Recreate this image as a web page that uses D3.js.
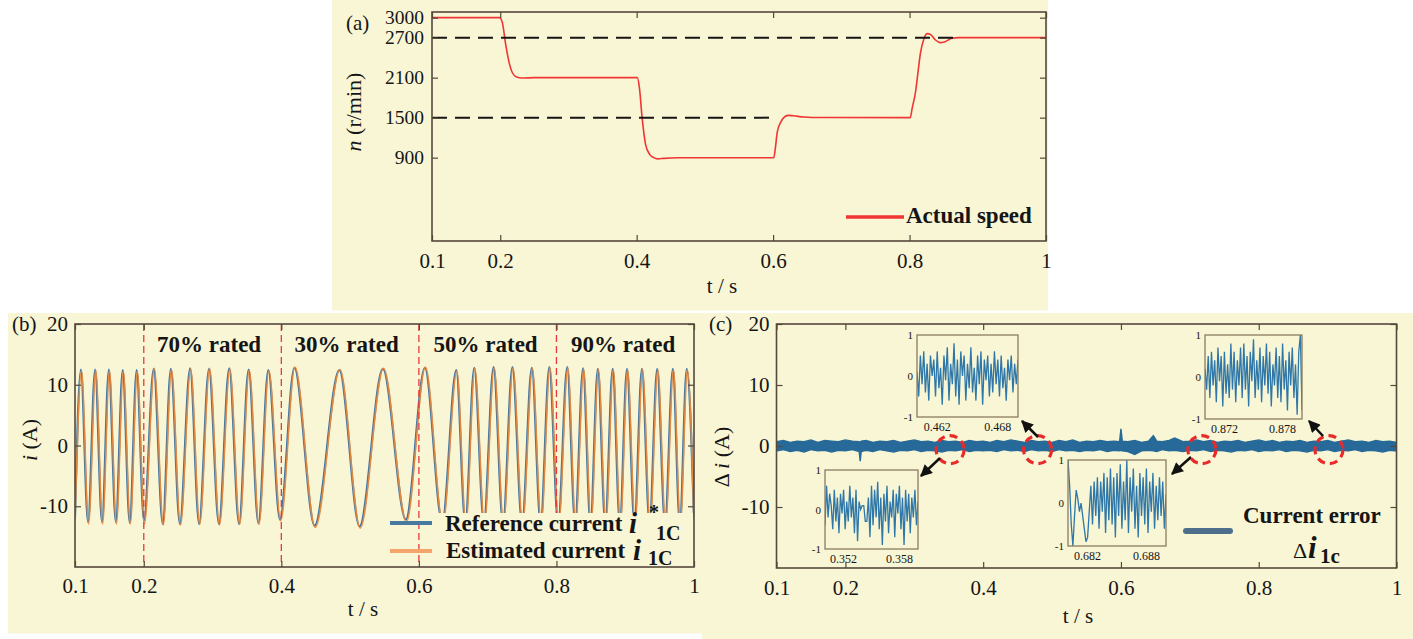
<!DOCTYPE html>
<html>
<head>
<meta charset="utf-8">
<script src="https://cdn.jsdelivr.net/npm/d3@7"></script>
<style>
  body { margin: 0; background: #ffffff; }
  svg text { font-family: "Liberation Serif", "Times New Roman", serif; fill: #151515; }
</style>
</head>
<body>
<div id="chart"></div>
<script>

// ---------- data ----------

const timeTicks = [0.1, 0.2, 0.4, 0.6, 0.8, 1];
const speedTicks = [900, 1500, 2100, 2700, 3000];
const currentTicks = [-10, 0, 10, 20];

// (a) actual speed, [t (s), n (r/min)]
const speedData = [
  [0.100, 3000], [0.199, 3000], [0.203, 2930], [0.208, 2600], [0.213, 2330], [0.218, 2170],
  [0.224, 2110], [0.232, 2095], [0.250, 2100], [0.401, 2100], [0.404, 1950], [0.408, 1500],
  [0.413, 1100], [0.419, 950], [0.425, 900], [0.431, 882], [0.440, 890], [0.460, 898],
  [0.601, 900], [0.603, 1020], [0.606, 1280], [0.611, 1430], [0.616, 1505], [0.622, 1535],
  [0.630, 1528], [0.645, 1510], [0.670, 1502], [0.801, 1500], [0.804, 1650], [0.809, 1900],
  [0.812, 2150], [0.816, 2470], [0.821, 2680], [0.826, 2760], [0.831, 2745], [0.838, 2665],
  [0.845, 2625], [0.852, 2640], [0.862, 2690], [0.872, 2700], [1.000, 2700]
];
// dashed reference levels [n, end time]
const speedRefs = [[2700, 0.87], [1500, 0.602]];

// (b) load steps
const loadBounds = [0.2, 0.4, 0.6, 0.8];
const loadLabels = ["70% rated", "30% rated", "50% rated", "90% rated"];
const loadCenters = [0.295, 0.495, 0.697, 0.897];

// (b) reference current, peaks and troughs [t, A]
const refWave = [
  [0.100, -11.8], [0.1086, 12.5], [0.1190, -12.6], [0.1293, 12.5], [0.1393, -12.6], [0.1493, 12.5],
  [0.1594, -12.6], [0.1694, 12.4], [0.1796, -12.7], [0.1897, 12.4], [0.2003, -12.4],
  [0.2145, 12.6], [0.2276, -12.9], [0.2394, 12.6], [0.2525, -12.9], [0.2674, 12.7], [0.2805, -12.9],
  [0.2949, 12.6], [0.3093, -12.9], [0.3243, 12.7], [0.3386, -12.9], [0.3525, 12.5], [0.3667, -12.8],
  [0.3811, 12.4], [0.3980, -12.2],
  [0.4190, 12.8], [0.4484, -13.2], [0.4844, 12.4], [0.5138, -13.3], [0.5477, 12.6], [0.5811, -12.2],
  [0.6087, 12.8],
  [0.6340, -12.6], [0.6544, 12.4], [0.6675, -12.7], [0.6805, 12.8], [0.6945, -12.7], [0.7086, 12.9],
  [0.7223, -12.8], [0.7360, 12.9], [0.7500, -12.8], [0.7642, 12.8], [0.7770, -12.8], [0.7897, 12.9],
  [0.8025, -12.8],
  [0.8157, 12.9], [0.8272, -12.8], [0.8387, 12.7], [0.8495, -12.8], [0.8602, 12.6], [0.8710, -12.8],
  [0.8818, 12.6], [0.8922, -12.8], [0.9026, 12.6], [0.9135, -12.8], [0.9243, 12.6], [0.9354, -12.8],
  [0.9465, 12.6], [0.9579, -12.8], [0.9693, 12.6], [0.9794, -12.8], [0.9895, 12.6], [1.000, -11.9]
];
// (b) estimated current, peaks and troughs [t, A]
const estWave = [
  [0.100, -12.2], [0.1094, 12.3], [0.1198, -12.9], [0.1301, 12.4], [0.1401, -12.9], [0.1501, 12.3],
  [0.1602, -12.9], [0.1702, 12.3], [0.1804, -12.9], [0.1905, 12.2], [0.2010, -12.9],
  [0.2153, 12.7], [0.2284, -13.1], [0.2402, 12.5], [0.2533, -13.1], [0.2682, 12.6], [0.2813, -13.0],
  [0.2957, 12.7], [0.3101, -13.1], [0.3251, 12.6], [0.3394, -13.0], [0.3533, 12.4], [0.3675, -13.0],
  [0.3819, 12.3], [0.3990, -12.4],
  [0.4198, 12.9], [0.4492, -13.5], [0.4852, 12.5], [0.5146, -13.6], [0.5485, 12.7], [0.5819, -12.6],
  [0.6095, 12.9],
  [0.6348, -12.8], [0.6552, 12.2], [0.6683, -12.9], [0.6813, 12.7], [0.6953, -12.9], [0.7094, 12.8],
  [0.7231, -12.9], [0.7368, 12.8], [0.7508, -12.9], [0.7650, 12.7], [0.7778, -12.9], [0.7905, 12.8],
  [0.8033, -12.9],
  [0.8165, 12.8], [0.8280, -12.9], [0.8395, 12.6], [0.8503, -12.9], [0.8610, 12.5], [0.8718, -12.9],
  [0.8826, 12.5], [0.8930, -12.9], [0.9034, 12.5], [0.9143, -12.9], [0.9251, 12.5], [0.9362, -12.9],
  [0.9473, 12.5], [0.9587, -12.9], [0.9701, 12.5], [0.9802, -12.9], [0.9903, 12.5], [1.000, -12.3]
];

// (c) current error band, [t, lower, upper] in A
const errBand = [
  [0.10, -0.8, 0.7], [0.11, -0.6, 0.9], [0.12, -0.9, 0.6], [0.13, -0.7, 0.8], [0.14, -1.0, 0.7],
  [0.15, -0.6, 1.0], [0.16, -0.8, 0.6], [0.17, -0.7, 0.9], [0.18, -1.0, 0.8], [0.19, -0.7, 0.7],
  [0.20, -0.8, 1.0], [0.21, -0.6, 0.8], [0.22, -0.9, 0.7], [0.2215, -2.5, 0.6], [0.223, -0.9, 0.8],
  [0.23, -0.7, 0.9], [0.24, -0.9, 0.6], [0.25, -0.6, 0.8], [0.26, -0.8, 0.7], [0.27, -1.0, 0.9],
  [0.28, -0.7, 0.6], [0.29, -0.8, 0.8], [0.30, -0.6, 1.0], [0.31, -0.9, 0.7], [0.32, -0.7, 0.8],
  [0.33, -0.8, 0.6], [0.34, -1.0, 0.9], [0.35, -0.7, 0.7], [0.36, -0.8, 0.8], [0.37, -0.6, 0.6],
  [0.38, -0.9, 0.9], [0.39, -0.7, 0.7], [0.40, -0.8, 0.8], [0.41, -0.7, 0.6], [0.42, -0.9, 0.9],
  [0.43, -0.6, 0.7], [0.44, -0.8, 1.0], [0.45, -0.7, 0.8], [0.46, -0.9, 0.6], [0.47, -0.6, 0.9],
  [0.48, -0.8, 0.7], [0.49, -0.7, 0.8], [0.50, -0.9, 0.6], [0.51, -0.6, 0.9], [0.52, -0.8, 0.7],
  [0.53, -0.7, 1.0], [0.54, -0.9, 0.6], [0.55, -0.7, 0.8], [0.56, -0.8, 0.7], [0.57, -0.6, 0.9],
  [0.58, -0.9, 0.7], [0.59, -0.7, 0.8], [0.598, -0.8, 0.7], [0.600, -0.7, 2.8], [0.602, -0.8, 0.8],
  [0.61, -0.9, 0.7], [0.62, -1.4, 0.9], [0.63, -0.8, 0.6], [0.64, -0.7, 0.8], [0.647, -0.8, 1.7],
  [0.652, -0.9, 0.8], [0.66, -0.6, 0.7], [0.67, -0.8, 0.9], [0.678, -0.7, 1.3], [0.69, -0.9, 0.7],
  [0.70, -0.7, 0.8], [0.71, -0.8, 1.0], [0.72, -0.6, 0.7], [0.73, -0.9, 0.9], [0.74, -0.7, 0.6],
  [0.75, -0.8, 0.8], [0.76, -1.0, 0.7], [0.77, -0.7, 0.9], [0.78, -0.8, 0.6], [0.79, -0.6, 0.8],
  [0.80, -0.9, 1.0], [0.81, -0.7, 0.7], [0.82, -0.8, 0.9], [0.83, -0.6, 0.6], [0.84, -0.9, 0.8],
  [0.85, -0.7, 0.7], [0.86, -0.8, 0.9], [0.87, -1.0, 0.6], [0.88, -0.7, 0.8], [0.89, -0.8, 0.7],
  [0.90, -0.6, 0.9], [0.91, -0.9, 0.6], [0.92, -0.7, 0.8], [0.93, -0.8, 1.0], [0.94, -0.6, 0.7],
  [0.95, -0.9, 0.8], [0.96, -0.7, 0.6], [0.97, -0.8, 0.9], [0.98, -1.0, 0.7], [0.99, -0.7, 0.8],
  [1.00, -0.8, 0.6]
];

// (c) zoomed windows: start time, tick labels, sampled error (A)
const zoomStarts = [0.35, 0.46, 0.68, 0.87];
const zoomTickLabels = [["0.352", "0.358"], ["0.462", "0.468"], ["0.682", "0.688"], ["0.872", "0.878"]];
const zoomCircles = [[0.352, -0.6], [0.479, -0.6], [0.7175, -0.6], [0.902, -0.6]];
const zoom1 = [-0.4, 0.6, -0.2, 0.4, 0.1, -0.5, 0.5, -0.3, 0.3, -0.6, 0.4, -0.1, 0.5, -0.5, 0.2, -0.3, 0.6, -0.2, 0.3, -0.6,
  0.5, -0.8, 0.2, 0.0, 0.1, 0.1, -0.3, -0.3, 0.3, -0.7, 0.6, -0.4, 0.5, -0.2, 0.7, -0.5, 0.3, -0.9, 0.4, -0.3,
  0.6, -0.6, 0.2, -0.2, 0.5, -0.7, 0.4, -0.1, 0.6, -0.5, 0.3, -0.9, 0.5, -0.3, 0.4, -0.6, 0.3, -0.2, 0.5, -0.4, 0.2];
const zoom2 = [0.1, -0.5, 0.5, -0.2, 0.6, -0.4, 0.3, -0.6, 0.5, 0.0, 0.4, -0.5, 0.6, -0.3, 0.2, -0.7, 0.5, -0.1, 0.7, -0.6,
  0.3, -0.2, 0.8, -0.5, 0.4, -0.7, 0.6, 0.0, 0.5, -0.6, 0.3, -0.3, 0.7, -0.4, 0.2, -0.6, 0.5, -0.2, 0.6, -0.7,
  0.4, -0.1, 0.5, -0.5, 0.3, -0.4, 0.6, -0.2, 0.4, -0.5, 0.5, -0.3, 0.2, -0.6, 0.4, -0.1, 0.5, -0.4, 0.3, -0.2, 0.4];
const zoom3 = [1.0, 0.4, -0.5, -1.0, -0.3, 0.3, 0.1, -0.2, 0.0, -0.3, -0.6, -0.9, -0.8, -0.2, 0.4, -0.5, 0.5, -0.3, 0.6, -0.6,
  0.5, -0.2, 0.7, -0.7, 0.6, -0.4, 0.8, -0.5, 0.6, -0.8, 0.7, -0.3, 0.9, -0.6, 0.5, -0.4, 1.0, -0.7, 0.6, -0.2,
  0.8, -0.6, 0.4, -0.8, 0.7, -0.3, 0.6, -0.5, 0.8, -0.7, 0.5, -0.2, 0.7, -0.6, 0.4, -0.4, 0.6, -0.3, 0.5, -0.6, 0.2];
const zoom4 = [0.2, -0.3, 0.5, -0.5, 0.6, -0.2, 0.4, -0.6, 0.7, -0.1, 0.5, -0.7, 0.6, -0.4, 0.3, -0.5, 0.8, -0.3, 0.6, -0.6,
  0.4, -0.2, 0.7, -0.5, 0.8, -0.3, 0.5, -0.7, 0.6, -0.1, 0.9, -0.5, 0.4, -0.3, 0.7, -0.6, 0.5, -0.2, 0.8, -0.4,
  0.6, -0.7, 0.3, -0.2, 0.7, -0.5, 0.5, -0.6, 0.8, -0.3, 0.4, -0.8, 0.6, -0.2, 0.7, -0.5, 0.3, -0.9, 0.6, 1.0, -0.8];
const zoomSeries = [zoom1, zoom2, zoom3, zoom4];


// ---------- drawing ----------

const BG = "#f8f6d5";
const FRAME = "#55493b";
const SERIF = '"Liberation Serif", "Times New Roman", serif';

const svg = d3.select("#chart").append("svg")
    .attr("width", 1413)
    .attr("height", 639);

// panel backgrounds
svg.append("rect").attr("x", 332).attr("y", 0).attr("width", 716).attr("height", 310.5).attr("fill", BG);
svg.append("rect").attr("x", 8).attr("y", 313).attr("width", 695).attr("height", 320.5).attr("fill", BG);
svg.append("rect").attr("x", 702).attr("y", 313).attr("width", 711).attr("height", 326).attr("fill", BG);

const defs = svg.append("defs");
defs.append("marker")
    .attr("id", "arrowHead")
    .attr("viewBox", "0 0 10 10")
    .attr("refX", 9).attr("refY", 5)
    .attr("markerUnits", "userSpaceOnUse")
    .attr("markerWidth", 13).attr("markerHeight", 12)
    .attr("orient", "auto")
    .append("path")
    .attr("d", "M0,0 L10,5 L0,10 Z")
    .attr("fill", "#111");

function addText(x, y, str, size, opts = {}) {
    return svg.append("text")
        .attr("x", x).attr("y", y)
        .attr("font-size", size)
        .attr("font-weight", opts.weight || "normal")
        .attr("font-style", opts.style || "normal")
        .attr("text-anchor", opts.anchor || "start")
        .text(str);
}

// MATLAB-like box axes with inward ticks on all four sides
function addAxes(x, y, xt, yt, xPad, yPad, ySize = 21) {
    let x0 = x.range()[0], x1 = x.range()[1];
    let y0 = y.range()[0], y1 = y.range()[1];
    let style = (sel, size) => {
        sel.select(".domain").remove();
        sel.selectAll("line").attr("stroke", FRAME).attr("stroke-width", 1.2);
        sel.selectAll("text").attr("font-size", size).attr("font-family", SERIF).attr("fill", "#151515");
    };
    svg.append("g").attr("transform", `translate(0,${y0})`)
        .call(d3.axisBottom(x).tickValues(xt).tickFormat(d => String(d)).tickSizeInner(-6).tickSizeOuter(0).tickPadding(xPad))
        .call(style, 21);
    svg.append("g").attr("transform", `translate(0,${y1})`)
        .call(d3.axisTop(x).tickValues(xt).tickFormat("").tickSizeInner(-6).tickSizeOuter(0))
        .call(style, 21);
    svg.append("g").attr("transform", `translate(${x0},0)`)
        .call(d3.axisLeft(y).tickValues(yt).tickFormat(d => String(d)).tickSizeInner(-6).tickSizeOuter(0).tickPadding(yPad))
        .call(style, ySize);
    svg.append("g").attr("transform", `translate(${x1},0)`)
        .call(d3.axisRight(y).tickValues(yt).tickFormat("").tickSizeInner(-6).tickSizeOuter(0))
        .call(style, ySize);
    svg.append("rect")
        .attr("x", x0).attr("y", y1)
        .attr("width", x1 - x0).attr("height", y0 - y1)
        .attr("fill", "none").attr("stroke", FRAME).attr("stroke-width", 1.6);
}

function clipFor(id, x, y) {
    defs.append("clipPath").attr("id", id).append("rect")
        .attr("x", x.range()[0]).attr("y", y.range()[1])
        .attr("width", x.range()[1] - x.range()[0])
        .attr("height", y.range()[0] - y.range()[1]);
    return `url(#${id})`;
}

// ===== (a) speed =====
let xA = d3.scaleLinear().domain([0.1, 1]).range([432, 1046]);
let yA = d3.scaleLinear().domain([-350, 3085]).range([241, 12]);

let speedLine = d3.line().x(d => xA(d[0])).y(d => yA(d[1])).curve(d3.curveMonotoneX);
svg.append("path")
    .datum(speedData)
    .attr("d", speedLine)
    .attr("fill", "none")
    .attr("stroke", "#f03535")
    .attr("stroke-width", 1.6);

svg.selectAll(".refLevel")
    .data(speedRefs)
    .enter().append("line")
    .attr("class", "refLevel")
    .attr("x1", xA(0.1)).attr("x2", d => xA(d[1]))
    .attr("y1", d => yA(d[0])).attr("y2", d => yA(d[0]))
    .attr("stroke", "#161616")
    .attr("stroke-width", 2)
    .attr("stroke-dasharray", "15,8");

addAxes(xA, yA, timeTicks, speedTicks, 12, 8, 19.5);

// legend (a)
svg.append("line").attr("x1", 846).attr("x2", 904).attr("y1", 217).attr("y2", 217)
    .attr("stroke", "#f03535").attr("stroke-width", 3.5);
addText(906, 223, "Actual speed", 23, {weight: "bold"});

addText(346, 30, "(a)", 21);
addText(722, 293, "t / s", 21, {anchor: "middle"});
let labA = addText(361, 112, "", 22, {anchor: "middle"}).attr("transform", "rotate(-90,361,112)");
labA.append("tspan").attr("font-style", "italic").text("n");
labA.append("tspan").text(" (r/min)");

// ===== (b) currents =====
let xB = d3.scaleLinear().domain([0.1, 1]).range([75, 694]);
let yB = d3.scaleLinear().domain([-20, 20]).range([567, 324]);
let clipB = clipFor("clipB", xB, yB);

let waveLine = d3.line().x(d => xB(d[0])).y(d => yB(d[1])).curve(d3.curveMonotoneX);
svg.append("path")
    .datum(refWave)
    .attr("clip-path", clipB)
    .attr("d", waveLine)
    .attr("fill", "none")
    .attr("stroke", "#3a73a6")
    .attr("stroke-width", 2.2);
svg.append("path")
    .datum(estWave)
    .attr("clip-path", clipB)
    .attr("d", waveLine)
    .attr("fill", "none")
    .attr("stroke", "#ee8a3a")
    .attr("stroke-width", 1.6)
    .attr("stroke-opacity", 0.9);

svg.selectAll(".loadBound")
    .data(loadBounds)
    .enter().append("line")
    .attr("class", "loadBound")
    .attr("x1", d => xB(d)).attr("x2", d => xB(d))
    .attr("y1", yB(20)).attr("y2", yB(-20))
    .attr("stroke", "#e8383a")
    .attr("stroke-width", 1.3)
    .attr("stroke-dasharray", "7,4");

svg.selectAll(".loadLabel")
    .data(loadLabels)
    .enter().append("text")
    .attr("class", "loadLabel")
    .attr("x", (d, i) => xB(loadCenters[i]))
    .attr("y", 352)
    .attr("text-anchor", "middle")
    .attr("font-size", 23)
    .attr("font-weight", "bold")
    .text(d => d);

// legend (b): its box hides the lower part of the waves
svg.append("rect").attr("x", 421).attr("y", 513).attr("width", 272).attr("height", 53).attr("fill", BG);
svg.append("line").attr("x1", 390).attr("x2", 432).attr("y1", 523).attr("y2", 523)
    .attr("stroke", "#4a79a0").attr("stroke-width", 4);
svg.append("line").attr("x1", 390).attr("x2", 432).attr("y1", 551).attr("y2", 551)
    .attr("stroke", "#f5a46c").attr("stroke-width", 4);
addText(445, 531, "Reference current", 23, {weight: "bold"});
addText(629, 533, "i", 29, {weight: "bold", style: "italic"});
addText(649, 519, "*", 20, {weight: "bold"});
addText(656, 540, "1C", 20, {weight: "bold"});
addText(446, 558, "Estimated current", 23, {weight: "bold"});
addText(633, 560, "i", 29, {weight: "bold", style: "italic"});
addText(648, 565, "1C", 20, {weight: "bold"});

addAxes(xB, yB, timeTicks, currentTicks, 11, 7);

addText(12, 331, "(b)", 21);
addText(363, 616, "t / s", 21, {anchor: "middle"});
let labB = addText(37, 440, "", 22, {anchor: "middle"}).attr("transform", "rotate(-90,37,440)");
labB.append("tspan").attr("font-style", "italic").text("i");
labB.append("tspan").text(" (A)");

// ===== (c) current error =====
let xC = d3.scaleLinear().domain([0.1, 1]).range([776.5, 1396.5]);
let yC = d3.scaleLinear().domain([-20, 20]).range([568, 324]);
let clipC = clipFor("clipC", xC, yC);

let band = d3.area().x(d => xC(d[0])).y0(d => yC(d[1])).y1(d => yC(d[2]));
svg.append("path")
    .datum(errBand)
    .attr("clip-path", clipC)
    .attr("d", band)
    .attr("fill", "#276a99")
    .attr("stroke", "#276a99")
    .attr("stroke-width", 1.4);

// dashed circles around the zoomed windows
svg.selectAll(".zoomCircle")
    .data(zoomCircles)
    .enter().append("circle")
    .attr("class", "zoomCircle")
    .attr("cx", d => xC(d[0])).attr("cy", d => yC(d[1]))
    .attr("r", 14)
    .attr("fill", "none")
    .attr("stroke", "#e82a2a")
    .attr("stroke-width", 3.2)
    .attr("stroke-dasharray", "8,5");

// inset boxes (layout only)
const insetBoxes = [
    {x: 825, y: 470, w: 93, h: 79},
    {x: 917, y: 335, w: 101, h: 82},
    {x: 1068, y: 460, w: 98, h: 86},
    {x: 1205, y: 335, w: 97, h: 84}
];
const arrows = [
    [940, 458, 921, 476],
    [1038, 437, 1022, 421],
    [1191, 457, 1172, 474],
    [1323, 436, 1309, 421]
];

insetBoxes.forEach((b, k) => {
    let vals = zoomSeries[k];
    let t0 = zoomStarts[k];
    let xs = d3.scaleLinear().domain([0, vals.length - 1]).range([b.x, b.x + b.w]);
    let xt = d3.scaleLinear().domain([t0, t0 + 0.01]).range([b.x, b.x + b.w]);
    let ys = d3.scaleLinear().domain([-1, 1]).range([b.y + b.h, b.y]);

    defs.append("clipPath").attr("id", "inClip" + k).append("rect")
        .attr("x", b.x).attr("y", b.y).attr("width", b.w).attr("height", b.h);

    svg.append("rect")
        .attr("x", b.x).attr("y", b.y).attr("width", b.w).attr("height", b.h)
        .attr("fill", BG);
    svg.append("path")
        .datum(vals)
        .attr("clip-path", `url(#inClip${k})`)
        .attr("d", d3.line().x((d, i) => xs(i)).y(d => ys(d)))
        .attr("fill", "none")
        .attr("stroke", "#2f77a8")
        .attr("stroke-width", 1.3);
    svg.append("rect")
        .attr("x", b.x).attr("y", b.y).attr("width", b.w).attr("height", b.h)
        .attr("fill", "none").attr("stroke", "#8c7b62").attr("stroke-width", 1.3);

    [1, 0, -1].forEach(v => {
        addText(b.x - 4, ys(v) + 4, String(v), 11, {anchor: "end"});
    });
    zoomTickLabels[k].forEach(lbl => {
        addText(xt(+lbl), b.y + b.h + 14, lbl, 12, {anchor: "middle"});
    });
});

svg.selectAll(".zoomArrow")
    .data(arrows)
    .enter().append("line")
    .attr("class", "zoomArrow")
    .attr("x1", d => d[0]).attr("y1", d => d[1])
    .attr("x2", d => d[2]).attr("y2", d => d[3])
    .attr("stroke", "#111")
    .attr("stroke-width", 2.5)
    .attr("marker-end", "url(#arrowHead)");

// legend (c)
svg.append("line").attr("x1", 1186).attr("x2", 1230).attr("y1", 531).attr("y2", 531)
    .attr("stroke", "#4d6f8c").attr("stroke-width", 6).attr("stroke-linecap", "round");
addText(1243, 523, "Current error", 23, {weight: "bold"});
addText(1293, 558, "\u0394", 22);
addText(1308, 558, "i", 31, {weight: "bold", style: "italic"});
addText(1320, 563, "1c", 21, {weight: "bold"});

addAxes(xC, yC, timeTicks, currentTicks, 12, 7);

addText(709, 331, "(c)", 21);
addText(1078, 623, "t / s", 21, {anchor: "middle"});
let labC = addText(729, 457, "", 22, {anchor: "middle"}).attr("transform", "rotate(-90,729,457)");
labC.append("tspan").text("\u0394 ");
labC.append("tspan").attr("font-style", "italic").text("i");
labC.append("tspan").text(" (A)");

</script>
</body>
</html>
